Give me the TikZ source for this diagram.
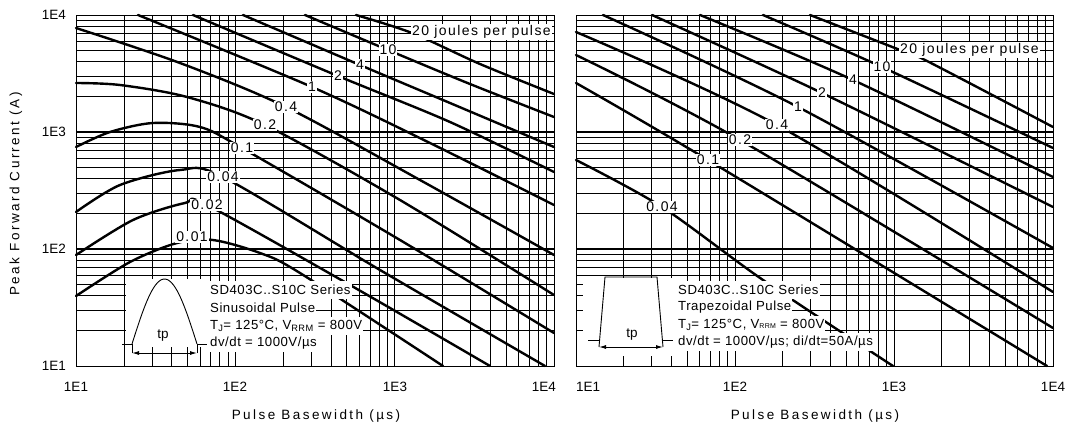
\documentclass[tikz,border=0pt]{standalone}
\usepackage{fontspec}
\setmainfont{Liberation Sans}
\newfontfamily\spacedfont{Liberation Sans}[LetterSpace=18]
\newfontfamily\labfont{Liberation Sans}[LetterSpace=10]
\newfontfamily\infofont{Liberation Sans}[LetterSpace=4]
\usetikzlibrary{arrows.meta}
\begin{document}
\begin{tikzpicture}[x=1pt,y=-1pt,
  gridline/.style={line width=0.9pt},
  majorline/.style={line width=1.5pt},
  curve/.style={line width=2.4pt, line cap=round, line join=round},
  lab/.style={fill=white, inner sep=1pt, font=\labfont\fontsize{14}{14}\selectfont},
  ticklab/.style={inner sep=0pt, font=\fontsize{13.5}{14}\selectfont},
  axtitle/.style={inner sep=0pt, font=\spacedfont\fontsize{13.5}{14}\selectfont},
  info/.style={fill=white, anchor=west, inner xsep=1pt, inner ysep=0pt, minimum height=17.5pt, font=\infofont\fontsize{13.2}{13}\selectfont},
  pulse/.style={line width=0.9pt},
  tparrow/.style={line width=0.9pt, {Latex[length=7pt,width=4pt]}-{Latex[length=7pt,width=4pt]}}
]
\useasboundingbox (0,0) rectangle (1069,434);
\fill[white] (0,0) rectangle (1069,434);

% ---------------- grids ----------------
\foreach \d in {0,1,2}{\foreach \k in {1,...,9}{
  \pgfmathsetmacro\gx{76+159.33*(\d+log10(\k))}
  \draw[gridline] (\gx,15) -- (\gx,366);
  \pgfmathsetmacro\gy{366-117*(\d+log10(\k))}
  \draw[gridline] (76,\gy) -- (554,\gy);
  \pgfmathsetmacro\hx{576+159*(\d+log10(\k))}
  \draw[gridline] (\hx,15) -- (\hx,366);
  \draw[gridline] (576,\gy) -- (1053,\gy);
}}
\draw[gridline] (76,15) rectangle (554,366);
\draw[gridline] (576,15) rectangle (1053,366);
\foreach \gy in {132,249}{
  \draw[majorline] (76,\gy) -- (554,\gy);
  \draw[majorline] (576,\gy) -- (1053,\gy);
}

% inset blank areas
\fill[white] (126,279) rectangle (210,347);
\fill[white] (583,278) rectangle (678,356);

% ---------------- left curves ----------------
\draw[curve] plot[smooth] coordinates {(356,15) (412,33) (480,64) (554,94)};
\draw[curve] plot[smooth] coordinates {(305,15) (388,50) (470,84) (554,117)};
\draw[curve] plot[smooth] coordinates {(243,15) (360,65) (450,103) (554,147)};
\draw[curve] plot[smooth] coordinates {(193,15) (338,76) (450,122) (554,172)};
\draw[curve] plot[smooth] coordinates {(138,15) (312,87) (430,143) (554,205)};
\draw[curve] plot[smooth] coordinates {(76,28) (180,63) (286,107) (420,180) (554,255)};
\draw[curve] plot[smooth] coordinates {(76,83) (120,85) (187,97) (265,125) (400,200) (554,295)};
\draw[curve] plot[smooth] coordinates {(76,147) (110,132) (153,123) (200,127) (242,148) (400,240) (554,333)};
\draw[curve] plot[smooth] coordinates {(76,212) (120,185) (180,170) (223,177) (380,270) (545,366)};
\draw[curve] plot[smooth] coordinates {(76,255) (133,220) (185,203) (207,205) (350,285) (490,366)};
\draw[curve] plot[smooth] coordinates {(76,296) (130,262) (177,243) (213,240) (260,253) (300,273) (443,366)};

% ---------------- right curves ----------------
\draw[curve] plot[smooth] coordinates {(810,15) (900,50) (927,61) (1053,127)};
\draw[curve] plot[smooth] coordinates {(763,15) (882,67) (1053,148)};
\draw[curve] plot[smooth] coordinates {(700,15) (853,80) (1053,177)};
\draw[curve] plot[smooth] coordinates {(652,15) (822,93) (1053,207)};
\draw[curve] plot[smooth] coordinates {(603,15) (798,107) (1053,248)};
\draw[curve] plot[smooth] coordinates {(576,32) (777,125) (1053,292)};
\draw[curve] plot[smooth] coordinates {(576,55) (740,140) (1053,328)};
\draw[curve] plot[smooth] coordinates {(576,83) (708,160) (1047,366)};
\draw[curve] plot[smooth] coordinates {(576,160) (662,207) (763,280) (893,366)};

% ---------------- curve labels ----------------
\node[lab] (l001) at (192,237) {0.01};
\node[lab] (l002) at (207,205) {0.02};
\node[lab] (l004) at (223,177) {0.04};
\node[lab] (l01) at (242,148) {0.1};
\node[lab] (l02) at (265,125) {0.2};
\node[lab] (l04) at (286,107) {0.4};
\node[lab] (l1) at (312,87) {1};
\node[lab] (l2) at (338,76) {2};
\node[lab] (l4) at (360,65) {4};
\node[lab] (l10) at (388,50) {10};
\node[lab, anchor=west] (l20) at (411,32) {20 joules per pulse};

\node[lab] (r004) at (662,207) {0.04};
\node[lab] (r01) at (708,160) {0.1};
\node[lab] (r02) at (740,140) {0.2};
\node[lab] (r04) at (777,125) {0.4};
\node[lab] (r1) at (798,107) {1};
\node[lab] (r2) at (822,93) {2};
\node[lab] (r4) at (853,80) {4};
\node[lab] (r10) at (882,67) {10};
\node[lab, anchor=west] (r20) at (899,50) {20 joules per pulse};

% ---------------- insets ----------------
\draw[pulse] (122,344) -- (132,344) (132,353) -- (132,344);
\draw[pulse] plot[domain=0:180, samples=40] ({132+65*\x/180}, {344-65*sin(\x)});
\draw[pulse] (197,353) -- (197,344) -- (207,344);
\draw[tparrow] (132,353) -- (197,353);
\node[ticklab] (ltp) at (163,336) {tp};

\draw[pulse] (588,340) -- (599.5,340);
\draw[pulse] (599,347) -- (605,277) -- (657,277) -- (663,347);
\draw[pulse] (662.5,340) -- (673,340);
\draw[tparrow] (599,347) -- (663,347);
\node[ticklab] (rtp) at (632,335) {tp};

\node[info] (li1) at (209,290) {SD403C..S10C Series};
\node[info] (li2) at (209,308) {Sinusoidal Pulse};
\node[info] (li3) at (209,326) {T\textsubscript{J}= 125°C, V\textsubscript{RRM} = 800V};
\node[info] (li4) at (209,343) {dv/dt = 1000V/µs};

\node[info] (ri1) at (677,290) {SD403C..S10C Series};
\node[info] (ri2) at (677,307) {Trapezoidal Pulse};
\node[info] (ri3) at (677,325) {T\textsubscript{J}= 125°C, V{\scriptsize RRM} = 800V};
\node[info] (ri4) at (677,342) {dv/dt = 1000V/µs; di/dt=50A/µs};

% ---------------- axes labels ----------------
\node[ticklab, anchor=east] (y4) at (66,15) {1E4};
\node[ticklab, anchor=east] (y3) at (66,132) {1E3};
\node[ticklab, anchor=east] (y2) at (66,249) {1E2};
\node[ticklab, anchor=east] (y1) at (66,366) {1E1};

\node[ticklab] (lx1) at (76,387) {1E1};
\node[ticklab] (lx2) at (235,387) {1E2};
\node[ticklab] (lx3) at (395,387) {1E3};
\node[ticklab, anchor=east] (lx4) at (556,387) {1E4};
\node[ticklab, anchor=west] (rx1) at (576,387) {1E1};
\node[ticklab] (rx2) at (735,387) {1E2};
\node[ticklab] (rx3) at (894,387) {1E3};
\node[ticklab] (rx4) at (1053,387) {1E4};

\node[axtitle] (lxt) at (316,416) {Pulse Basewidth (µs)};
\node[axtitle] (rxt) at (815,416) {Pulse Basewidth (µs)};
\node[axtitle, rotate=90] (yt) at (16,194) {Peak Forward Current (A)};
\end{tikzpicture}
\end{document}
